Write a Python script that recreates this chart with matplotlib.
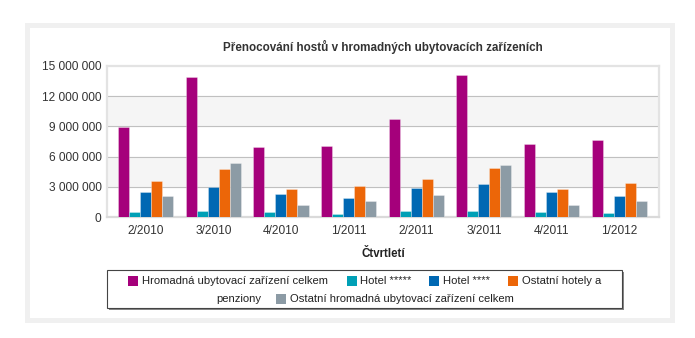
import matplotlib
matplotlib.use("Agg")
import matplotlib.pyplot as plt
import numpy as np
from matplotlib.patches import Rectangle
from matplotlib.ticker import FuncFormatter

categories = ["2/2010", "3/2010", "4/2010", "1/2011", "2/2011", "3/2011", "4/2011", "1/2012"]
series_names = ["Hromadná ubytovací zařízení celkem", "Hotel *****", "Hotel ****",
                "Ostatní hotely a penziony", "Ostatní hromadná ubytovací zařízení celkem"]
hromadna = [8900000, 13900000, 6980000, 7050000, 9700000, 14140000, 7220000, 7680000]
hotel5 = [500000, 600000, 500000, 280000, 560000, 630000, 500000, 370000]
hotel4 = [2500000, 2950000, 2280000, 1860000, 2920000, 3280000, 2480000, 2120000]
ostatni_hotely = [3600000, 4800000, 2780000, 3050000, 3800000, 4870000, 2810000, 3380000]
ostatni_hua = [2100000, 5330000, 1190000, 1590000, 2150000, 5170000, 1190000, 1590000]
series_values = [hromadna, hotel5, hotel4, ostatni_hotely, ostatni_hua]
colors = ["#a5007b", "#00a0b6", "#0068b3", "#ec6608", "#8c9ba5"]
yticks = [0, 3000000, 6000000, 9000000, 12000000, 15000000]

W, H = 695, 338
plt.rcParams['font.family'] = ['Liberation Sans', 'DejaVu Sans']
fig = plt.figure(figsize=(W / 100, H / 100), dpi=100)

def fx(x):
    return x / W

def fy(y):
    return 1 - y / H

# outer frame
fig.patches.append(Rectangle((fx(26.5), fy(319.5)), fx(671.5) - fx(26.5), fy(24.5) - fy(319.5),
                             transform=fig.transFigure, facecolor='none', edgecolor='#f0f0f0',
                             linewidth=3.6, zorder=0))

ax = fig.add_axes([fx(107), fy(217), fx(659) - fx(107), fy(66) - fy(217)], zorder=2)
ax.set_facecolor('white')
x = np.arange(len(categories))
bw = 0.163
n = len(series_values)
for i, (vals, c) in enumerate(zip(series_values, colors)):
    ax.bar(x + (i - (n - 1) / 2) * bw, vals, width=bw, color=c,
           edgecolor=(1, 1, 1, 0.35), linewidth=0.6, zorder=3)

ax.set_xlim(-0.572, 7.59)
ax.set_ylim(0, 15000000)
ax.axhspan(3000000, 6000000, color='#f5f5f5', zorder=0)
ax.axhspan(9000000, 12000000, color='#f5f5f5', zorder=0)
for t in yticks[1:-1]:
    ax.axhline(t, color='#c0c0c0', linewidth=0.8, zorder=1)
ax.set_yticks(yticks)
ax.yaxis.set_major_formatter(FuncFormatter(lambda v, p: f"{int(v):,}".replace(",", " ")))
ax.set_xticks(x)
ax.set_xticklabels(categories)
ax.tick_params(axis='both', length=0, labelsize=8.6, colors='#333333')
ax.tick_params(axis='y', pad=4)
ax.tick_params(axis='x', pad=6)
for s in ['top', 'left', 'right']:
    ax.spines[s].set_color('#e3e3e3')
    ax.spines[s].set_linewidth(1.6)
ax.spines['bottom'].set_color('#dadada')
ax.spines['bottom'].set_linewidth(1.6)

fig.text(fx(383), fy(47), "Přenocování hostů v hromadných ubytovacích zařízeních",
         ha='center', va='center', fontsize=8.4, fontweight='bold', color='#333333')
fig.text(fx(383), fy(254), "Čtvrtletí", ha='center', va='center', fontsize=8.3,
         fontweight='bold', color='#222222')

# legend box with shadow
fig.patches.append(Rectangle((fx(109), fy(310)), fx(622) - fx(107), fy(270) - fy(308),
                             transform=fig.transFigure, facecolor='#888888', edgecolor='none',
                             zorder=4))
fig.patches.append(Rectangle((fx(107), fy(308)), fx(622) - fx(107), fy(270) - fy(308),
                             transform=fig.transFigure, facecolor='white', edgecolor='#444444',
                             linewidth=0.8, zorder=5))

first, second = series_names[3].rsplit(' ', 1)
items = [  # (square x, text x, row y, text)
    (128, 142.5, 281, series_names[0]),
    (347, 360, 281, series_names[1]),
    (429, 443, 281, series_names[2]),
    (508, 522, 281, first),
    (276, 290.5, 299, series_names[4]),
]
for (sx, tx, ry, label), c in zip(items, colors):
    fig.patches.append(Rectangle((fx(sx), fy(ry + 5)), fx(10), fy(0) - fy(10),
                                 transform=fig.transFigure, facecolor=c, edgecolor='none', zorder=6))
    fig.text(fx(tx), fy(ry), label, ha='left', va='center', fontsize=8.15, color='#222222', zorder=7)
fig.text(fx(216), fy(299), second, ha='left', va='center', fontsize=8.15, color='#222222', zorder=7)

fig.savefig("out.png", dpi=100, facecolor='white')
